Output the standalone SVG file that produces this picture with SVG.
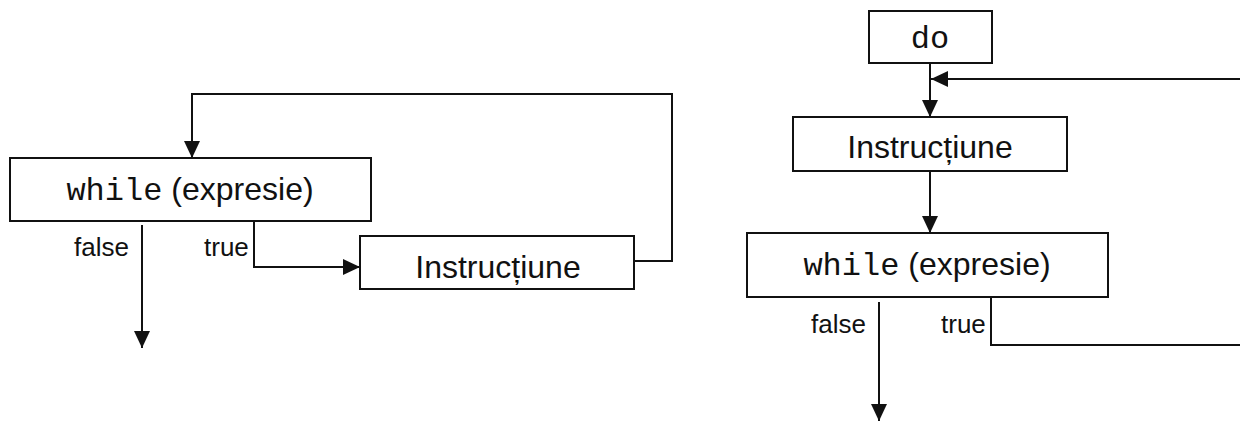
<svg xmlns="http://www.w3.org/2000/svg" width="1240" height="421" viewBox="0 0 1240 421">
  <defs>
    <style>
      .box { fill: #fff; stroke: #111; stroke-width: 2; }
      .wire { fill: none; stroke: #111; stroke-width: 2; }
      .txt { font-family: "Liberation Sans", Arial, sans-serif; font-size: 32px; fill: #111; text-anchor: middle; }
      .mono { font-family: "Liberation Mono", "Courier New", monospace; }
      .lbl { font-family: "Liberation Sans", Arial, sans-serif; font-size: 26px; fill: #111; }
    </style>
    <marker id="arrow" viewBox="0 0 17 16" refX="17" refY="8" markerWidth="17" markerHeight="16" markerUnits="userSpaceOnUse" orient="auto">
      <path d="M0,0 L17,8 L0,16 Z" fill="#111"/>
    </marker>
  </defs>

  <!-- while loop -->
  <g id="while1">
    <rect class="box" x="10" y="158" width="361" height="63"/>
    <text class="txt" x="190" y="200"><tspan class="mono">while</tspan> (expresie)</text>
  </g>
  <g id="instr1">
    <rect class="box" x="360" y="236" width="274" height="53"/>
    <text class="txt" x="498" y="278">Instrucțiune</text>
  </g>

  <!-- do-while loop -->
  <g id="do2">
    <rect class="box" x="869" y="11" width="123" height="52"/>
    <text class="txt mono" x="930" y="48">do</text>
  </g>
  <g id="instr2">
    <rect class="box" x="793" y="117" width="274" height="54"/>
    <text class="txt" x="930" y="158">Instrucțiune</text>
  </g>
  <g id="while2">
    <rect class="box" x="747" y="233" width="361" height="64"/>
    <text class="txt" x="927" y="275"><tspan class="mono">while</tspan> (expresie)</text>
  </g>

  <g id="connectors">
    <!-- while loop edges -->
    <path class="wire" d="M634,261 H672 V94 H192 V158" marker-end="url(#arrow)"/>
    <path class="wire" d="M254,221 V267 H360" marker-end="url(#arrow)"/>
    <path class="wire" d="M142,225 V348" marker-end="url(#arrow)"/>
    <!-- do-while edges -->
    <path class="wire" d="M930,63 V117" marker-end="url(#arrow)"/>
    <path class="wire" d="M1240,79 H931" marker-end="url(#arrow)"/>
    <path class="wire" d="M930,171 V233" marker-end="url(#arrow)"/>
    <path class="wire" d="M991,297 V345 H1240"/>
    <path class="wire" d="M879,302 V421" marker-end="url(#arrow)"/>
  </g>

  <g id="labels">
    <text class="lbl" x="74" y="256">false</text>
    <text class="lbl" x="204" y="256">true</text>
    <text class="lbl" x="811" y="333">false</text>
    <text class="lbl" x="941" y="333">true</text>
  </g>
</svg>
